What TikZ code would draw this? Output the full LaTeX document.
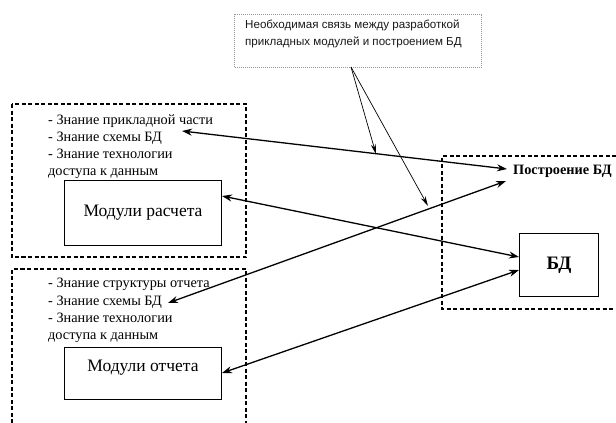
\documentclass[tikz,border=0pt]{standalone}
\usepackage{fontspec}
\setmainfont{Liberation Serif}
\newfontfamily\callfont{Liberation Sans}
\usetikzlibrary{arrows.meta,calc}
\tikzset{
  grpframe/.style={draw, line width=1.2pt, dash pattern=on 4pt off 2.5pt},
  modbox/.style={draw, line width=1pt, minimum width=157pt, inner sep=0pt},
  lbl/.style={font=\fontsize{14.3}{15}\selectfont, anchor=base west, inner sep=1pt},
  conn/.style={line width=1.3pt, {Stealth[length=10pt,width=7pt]}-{Stealth[length=10pt,width=7pt]}},
  callarrow/.style={line width=0.7pt, -{Stealth[length=10pt,width=5pt]}},
}
\begin{document}
\begin{tikzpicture}[x=1pt,y=-1pt]
\useasboundingbox (0,0) rectangle (616,423);
% group frames
\draw[grpframe] (12,104) rectangle (246,257);
\draw[grpframe] (12,423) -- (12,269) -- (246,269) -- (246,423);
\draw[grpframe] (616,156) -- (442,156) -- (442,309) -- (616,309);
% callout
\node[draw=gray!80, line width=1pt, dash pattern=on 1pt off 1pt, minimum width=247pt, minimum height=53pt, inner sep=0pt,
      anchor=north west] (call) at (234,14) {};
\node[align=left, font=\callfont\fontsize{11.6}{17}\selectfont, text=black!90, anchor=north west, inner sep=0pt]
  (callt) at (245,20) {Необходимая связь между разработкой\\прикладных модулей и построением БД};
% upper texts
\node[lbl] (u1) at (47,124) {- Знание прикладной части};
\node[lbl] (u2) at (47,141) {- Знание схемы БД};
\node[lbl] (u3) at (47,158) {- Знание технологии};
\node[lbl] (u4) at (47,175) {доступа к данным};
\node[modbox, minimum height=65pt, anchor=north west, font=\fontsize{17.5}{18}\selectfont] (mr) at (64,180) {Модули расчета};
% lower texts
\node[lbl] (l1) at (47,287) {- Знание структуры отчета};
\node[lbl] (l2) at (47,305) {- Знание схемы БД};
\node[lbl] (l3) at (47,322) {- Знание технологии};
\node[lbl] (l4) at (47,339) {доступа к данным};
\node[modbox, minimum height=52pt, anchor=north west] (mo) at (64,347) {};
\node[font=\fontsize{17.5}{18}\selectfont, anchor=base] (mot) at (143,371) {Модули отчета};
% right
\node[font=\bfseries\fontsize{14.3}{15}\selectfont, anchor=west, inner sep=1pt] (pb) at (512,171) {Построение БД};
\node[draw, line width=1pt, minimum width=79pt, minimum height=63pt, anchor=north west, inner sep=0pt,
      font=\bfseries\fontsize{19}{20}\selectfont] (bd) at (519,233) {БД};
% coordinates
\coordinate (u2e) at (182,131);
\coordinate (mre) at (222,196);
\coordinate (l2e) at (168,303);
\coordinate (moe) at (222,373);
\coordinate (pbw) at (507,169);
\coordinate (pbsw) at (506,181);
\coordinate (bdw1) at (519,257);
\coordinate (bdw2) at (519,270);
\coordinate (cs) at (351,67);
\coordinate (c1) at (376,154);
\coordinate (c2) at (428,206);
% connectors
\draw[conn] (u2e) -- (pbw);
\draw[conn] (mre) -- (bdw1);
\draw[conn] (l2e) -- (pbsw);
\draw[conn] (moe) -- (bdw2);
\draw[callarrow] (cs) -- (c1);
\draw[callarrow] (cs) -- (c2);
\end{tikzpicture}
\end{document}
